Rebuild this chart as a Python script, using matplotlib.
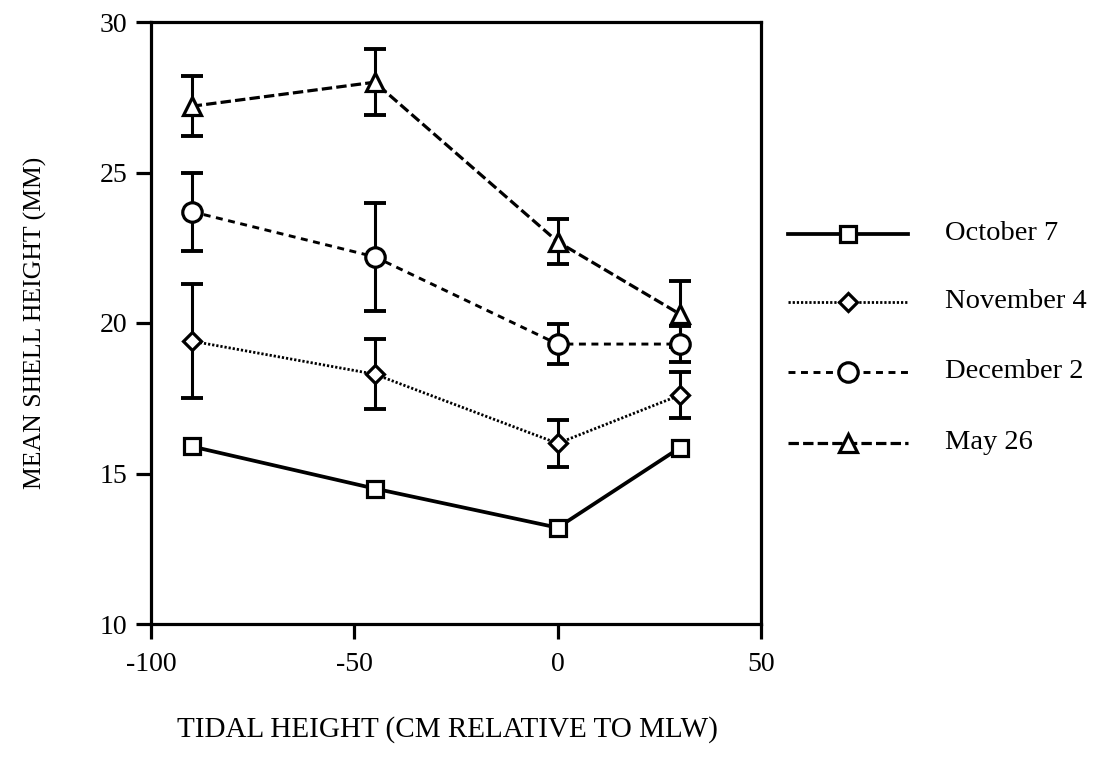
import matplotlib
matplotlib.use('Agg')
import matplotlib.pyplot as plt
from matplotlib.lines import Line2D

plt.rcParams.update({
    'font.family': ['Liberation Serif', 'DejaVu Serif'],
    'font.size': 20,
    'xtick.labelsize': 20,
    'ytick.labelsize': 20,
    'axes.unicode_minus': False,
    'lines.scale_dashes': False,
    'figure.facecolor': 'white',
    'axes.facecolor': 'white',
})

# tidal height (cm relative to MLW) of each sampling station
tidal_height = [-90, -45, 0, 30]

dates = ['October 7', 'November 4', 'December 2', 'May 26']

# mean shell height (mm) per sampling date
oct7 = [15.9, 14.5, 13.2, 15.85]
nov4 = [19.4, 18.3, 16.0, 17.6]
dec2 = [23.7, 22.2, 19.3, 19.3]
may26 = [27.2, 28.0, 22.7, 20.3]

# error bar half-widths (no bars for October 7)
nov4_err = [1.9, 1.17, 0.78, 0.77]
dec2_err = [1.3, 1.8, 0.67, 0.6]
may26_err = [1.0, 1.1, 0.75, 1.1]

series = [
    (oct7, None, 's', 12, (None, None), 2.7),
    (nov4, nov4_err, 'D', 9.5, (1.6, 1.4), 2.0),
    (dec2, dec2_err, 'o', 14, (5, 4), 2.1),
    (may26, may26_err, '^', 12.5, (7.5, 3), 2.3),
]


def plot_shell_height():
    fig = plt.figure(figsize=(10.95, 7.61), dpi=100)
    ax = fig.add_axes([151 / 1095, 137 / 761, 610 / 1095, 602 / 761])

    for vals, err, marker, ms, dashes, lw in series:
        if err is not None:
            ax.errorbar(tidal_height, vals, yerr=err, fmt='none', ecolor='black',
                        elinewidth=2.2, capsize=8, capthick=2.8, zorder=2)
        line, = ax.plot(tidal_height, vals, color='black', lw=lw, marker=marker,
                        markersize=ms, markerfacecolor='white',
                        markeredgecolor='black', markeredgewidth=2.3, zorder=3)
        if dashes[0] is not None:
            line.set_dashes(dashes)

    ax.set_xlim(-100, 50)
    ax.set_ylim(10, 30)
    ax.set_xticks([-100, -50, 0, 50])
    ax.set_yticks([10, 15, 20, 25, 30])

    for side in ['top', 'bottom', 'left', 'right']:
        ax.spines[side].set_linewidth(2.3)
        ax.spines[side].set_color('black')
    ax.tick_params(direction='out', length=11, width=2.3, colors='black')
    ax.tick_params(axis='x', pad=9)
    ax.tick_params(axis='y', pad=6)

    ax.set_xlabel('TIDAL HEIGHT (CM RELATIVE TO MLW)', fontsize=21, va='center')
    ax.xaxis.set_label_coords((447 - 151) / 610, -(730 - 624) / 602)
    ax.set_ylabel('MEAN SHELL HEIGHT (MM)', fontsize=18.5, va='center')
    ax.yaxis.set_label_coords((35 - 151) / 610, 0.5)

    # legend drawn by hand to the right of the frame
    rows_y = [0.648, 0.535, 0.419, 0.301]
    for (vals, err, marker, ms, dashes, lw), label, yy in zip(series, dates, rows_y):
        ln = Line2D([1.044, 1.241], [yy, yy], transform=ax.transAxes, color='black',
                    lw=lw, clip_on=False)
        if dashes[0] is not None:
            ln.set_dashes(dashes)
        ax.add_line(ln)
        ax.plot([1.143], [yy], transform=ax.transAxes, marker=marker, markersize=ms,
                markerfacecolor='white', markeredgecolor='black',
                markeredgewidth=2.3, clip_on=False, zorder=4)
        ax.text(1.302, yy, label, transform=ax.transAxes, fontsize=20.5,
                va='center', ha='left')

    fig.savefig('out.png', dpi=100)
    plt.close(fig)


if __name__ == '__main__':
    plot_shell_height()
